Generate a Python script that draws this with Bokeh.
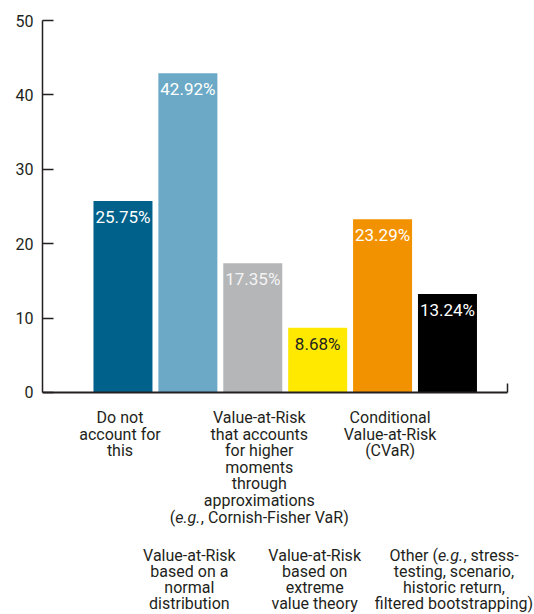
from bokeh.plotting import figure
from bokeh.models import ColumnDataSource, Range1d, LinearAxis, FixedTicker
from bokeh.core.properties import value
from bokeh.embed import file_html
from bokeh.resources import INLINE

# --- data -------------------------------------------------------------
categories = [
    "Do not\naccount for\nthis",
    "Value-at-Risk\nbased on a\nnormal\ndistribution",
    "Value-at-Risk\nthat accounts\nfor higher\nmoments\nthrough\napproximations\n(e.g., Cornish-Fisher VaR)",
    "Value-at-Risk\nbased on\nextreme\nvalue theory",
    "Conditional\nValue-at-Risk\n(CVaR)",
    "Other (e.g., stress-\ntesting, scenario,\nhistoric return,\nfiltered bootstrapping)",
]
shares = [25.75, 42.92, 17.35, 8.68, 23.29, 13.24]
y_ticks = [0, 10, 20, 30, 40, 50]

# --- styling ----------------------------------------------------------
bar_colors = ["#00618B", "#6BA9C6", "#B5B6B8", "#FFE900", "#F29200", "#000000"]
label_colors = ["#FFFFFF", "#FFFFFF", "#F4F4F4", "#231F20", "#FFFFFF", "#FFFFFF"]
FONT = "Roboto"
INK = "#231F20"

# horizontal nudges (px) of each category caption, and the row it sits in
caption_dx = [-3, 1.5, 6.5, -3, 7.5, 6.5]
caption_row = [0, 1, 0, 1, 0, 1]
row_first_baseline = [25.0, 163.5]   # px below the zero line
row_pitch = [16.6, 15.8]
ITALIC = "e.g."
italic_width = 25.5
italic_anchor = {2: -84.0, 5: -16.0}  # px from caption centre where "e.g." starts

xs = list(range(len(shares)))

p = figure(
    width=534, height=614,
    x_range=Range1d(-1.240, 6.341),
    y_range=Range1d(-29.86, 52.69),
    x_axis_location=None, y_axis_location=None,
    toolbar_location=None, output_backend="svg",
    min_border_left=42, min_border_right=0,
    min_border_top=0, min_border_bottom=0,
    outline_line_color=None, background_fill_color="white",
)
p.xgrid.visible = False
p.ygrid.visible = False

# bars
src = ColumnDataSource(dict(
    x=xs, top=shares, color=bar_colors,
    label=[f"{v:.2f}%" for v in shares], label_color=label_colors,
))
p.vbar(x="x", top="top", bottom=0, width=0.909, fill_color="color",
       line_color=None, source=src)
p.text(x="x", y="top", text="label", text_color="label_color",
       text_font=value(FONT), text_font_size="17px",
       text_align="center", text_baseline="alphabetic", y_offset=16,
       source=src)

# category captions, one line per glyph so "e.g." can be italic
cx, ct, cdx, cdy, cstyle, calign = [], [], [], [], [], []
for i, cat in enumerate(categories):
    row = caption_row[i]
    for k, line in enumerate(cat.split("\n")):
        dy = row_first_baseline[row] + k * row_pitch[row]
        if ITALIC in line:
            pre, post = line.split(ITALIC, 1)
            a = caption_dx[i] + italic_anchor[i]
            for txt, off, sty, al in (
                (pre, a, "normal", "right"),
                (ITALIC, a, "italic", "left"),
                (post, a + italic_width, "normal", "left"),
            ):
                cx.append(i); ct.append(txt); cdx.append(off); cdy.append(dy)
                cstyle.append(sty); calign.append(al)
        else:
            cx.append(i); ct.append(line); cdx.append(caption_dx[i]); cdy.append(dy)
            cstyle.append("normal"); calign.append("center")

cap_src = ColumnDataSource(dict(x=cx, y=[0] * len(cx), text=ct, dx=cdx, dy=cdy,
                                style=cstyle, align=calign))
p.text(x="x", y="y", text="text", x_offset="dx", y_offset="dy",
       text_font_style="style", text_align="align", text_baseline="alphabetic",
       text_font=value(FONT), text_font_size="16px", text_color=INK,
       source=cap_src)

# value axis
yaxis = LinearAxis(
    bounds=(y_ticks[0], y_ticks[-1]),
    ticker=FixedTicker(ticks=y_ticks),
    major_tick_in=11, major_tick_out=0, minor_tick_line_color=None,
    major_tick_line_width=1.5, major_tick_line_color=INK,
    axis_line_width=1.5, axis_line_color=INK,
    major_label_text_font=FONT, major_label_text_font_size="16px",
    major_label_text_color=INK, major_label_standoff=9,
)
p.add_layout(yaxis, "left")

# baseline axis at zero with a closing tick at its right end
x_end = 5.925
xaxis = LinearAxis(
    fixed_location=0,
    bounds=(-1.240, x_end),
    ticker=FixedTicker(ticks=[x_end]),
    major_tick_in=9, major_tick_out=0, minor_tick_line_color=None,
    major_tick_line_width=1.5, major_tick_line_color=INK,
    axis_line_width=2, axis_line_color=INK,
    major_label_text_font_size="0px", major_label_text_color=None,
    major_label_standoff=0,
)
p.add_layout(xaxis, "below")

open("out.html", "w").write(file_html(p, INLINE))
